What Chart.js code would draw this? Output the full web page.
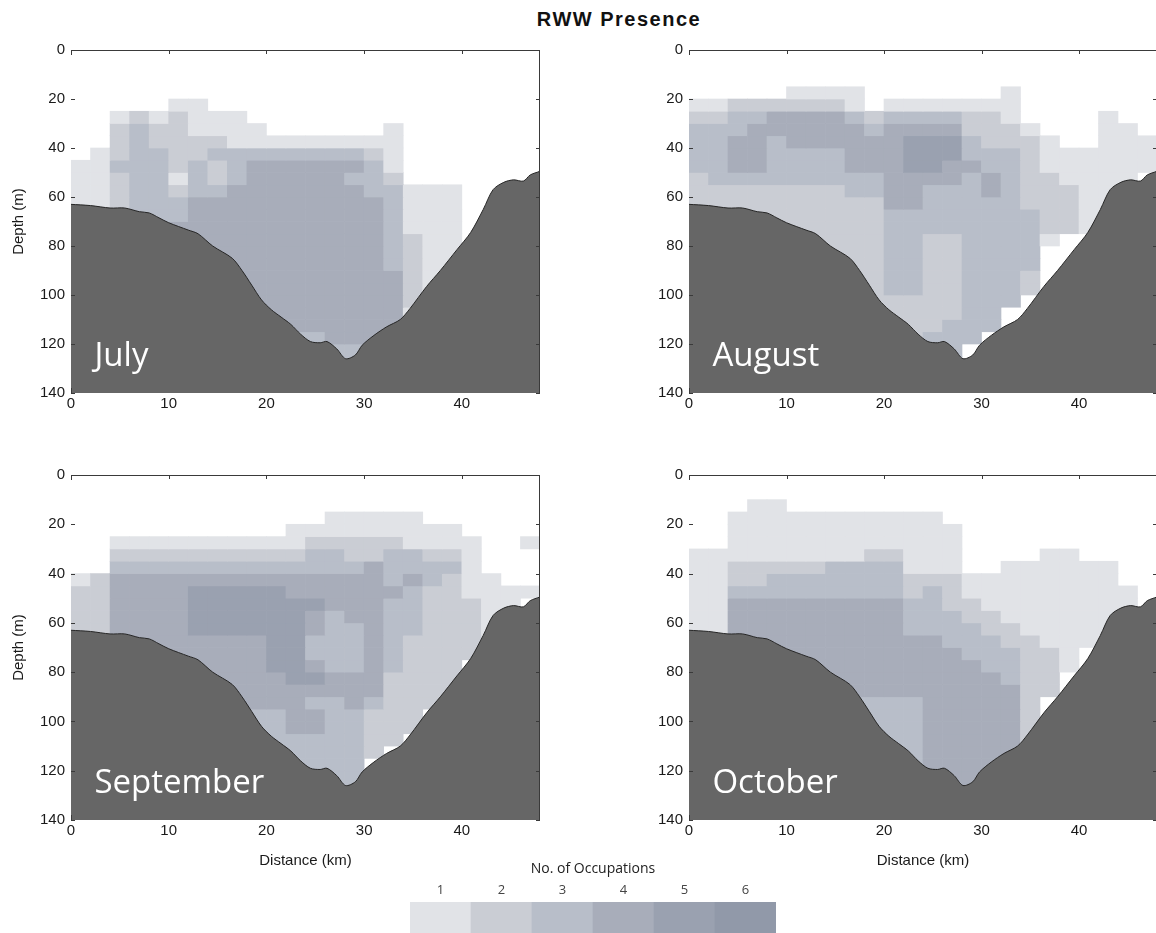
<!DOCTYPE html>
<html>
<head>
<meta charset="utf-8">
<script src="https://cdn.jsdelivr.net/npm/chart.js@4.4.0/dist/chart.umd.min.js"></script>
<style>
  html, body { margin: 0; padding: 0; background: #fff; overflow: hidden; }
  body { width: 1156px; height: 933px; position: relative; }
  canvas { position: absolute; }
  #title {
    position: absolute; left: 419px; top: 9px; width: 400px;
    text-align: center; font: bold 20px/20px "Liberation Sans", Arial, sans-serif;
    letter-spacing: 1.5px; color: #111;
  }
</style>
</head>
<body>
<div id="title">RWW Presence</div>
<canvas id="july" width="550" height="378" style="left:0;top:40px"></canvas>
<canvas id="august" width="549" height="378" style="left:618px;top:40px"></canvas>
<canvas id="september" width="550" height="405" style="left:0;top:465px"></canvas>
<canvas id="october" width="549" height="405" style="left:618px;top:465px"></canvas>
<canvas id="colorbar" width="366" height="100" style="left:410px;top:857px"></canvas>
<script>
// Occupation levels and their colours (colour bar)
const occLevels = ['1', '2', '3', '4', '5', '6'];
const occupationColors = ['#e1e3e7', '#cacdd4', '#b8bec9', '#a8adba', '#9aa1b0', '#9199a9'];

// Bottom profile (distance km, depth m)
const bathyX = [0, 2, 4, 5.5, 7, 8, 9, 10, 12, 13, 14.5, 16.5, 17.5, 18.5, 19.5, 20.5, 21.5, 22.5, 23.5, 24.5,
  25.5, 26.2, 27.2, 28.1, 29.1, 29.8, 31, 32.3, 33.7, 34.7, 36.4, 37.8, 39.5, 40.9, 42.2, 43.2, 44.3, 45.3, 46.3, 47, 48];
const bathyDepth = [63, 63.5, 64.5, 64.5, 66, 66.5, 68.5, 70.5, 73.5, 75, 80, 85, 90, 96, 102, 106, 109, 112, 116, 119,
  119.5, 119, 122, 126, 124.5, 120.5, 116.5, 113, 110, 105.5, 96.5, 90, 81.5, 74.5, 65, 57, 54, 53, 53.5, 51, 49.5];

// Occupation counts: one string per 5 m depth row (0-5, 5-10, ...), one digit per 2 km column (0-2, 2-4, ...)
const julyGrid = [
  '000000000000000000000000', '000000000000000000000000', '000000000000000000000000', '000000000000000000000000',
  '000001100000000000000000', '001212111000000000000000', '002322111100000010000000', '002322221111111110000000',
  '012332233333333210000000', '113332323444444310000000', '112331323444443320000000', '112332334444444331110000',
  '112333444444444431110000', '112333444444444431110000', '112334444444444431110000', '112334444444444432110000',
  '112334444444444432110000', '112334444444444432110000', '112334444444444442110000', '112334444444444442110000',
  '112334444444444442110000', '112334444444444441000000', '112334444444444440000000', '112334444443344440000000',
  '112334444443333440000000', '112334444443333440000000', '112334444443333440000000', '112334444443333440000000'
];
const augustGrid = [
  '000000000000000000000000', '000000000000000000000000', '000000000000000000000000', '000001111000000010000000',
  '112222221011111110000000', '223344443233332210000100', '333444444344442221000110', '334434444445553222100111',
  '334433334445553332111111', '334433334445544332111111', '233333333344443432211110', '222222223344333432221100',
  '222222222244333332221100', '222222222233333333221000', '222222222233333333221000', '222222222233223333100000',
  '222222222233223333000000', '222222222233223333000000', '222222222233223332000000', '222222222233223332000000',
  '222222222222223330000000', '222222222222223300000000', '222222222222233300000000', '222222222222333000000000',
  '222222222222330000000000', '222222222222330000000000', '222222222222330000000000', '222222222222330000000000'
];
const septemberGrid = [
  '000000000000000000000000', '000000000000000000000000', '000000000000000000000000', '000000000000011111000000',
  '000000000001111111110000', '001111111111222221111001', '002222222222332233221000', '003333333333333433331000',
  '124444444444444434321100', '224444555554444443221111', '224444555555544433222110', '224444555555434433222100',
  '224444555555433433222100', '224444444455333432222000', '224444444455333432222000', '224444444455433432220000',
  '224444444445544422220000', '224444444444444422220000', '224444444444334322200000', '224444444334433222000000',
  '224444444334433222000000', '224444444333333220000000', '224444444333333200000000', '224444444333333000000000',
  '224444444333333000000000', '224444444333333000000000', '224444444333333000000000', '224444444333333000000000'
];
const octoberGrid = [
  '000000000000000000000000', '000000000000000000000000', '000110000000000000000000', '001111111111100000000000',
  '001111111111110000000000', '001111111111110000000000', '111111111221110000110000', '112222233331110011111100',
  '112233333332221111111100', '113333333332321111111110', '114444444443322111111110', '114444444443332211111100',
  '114444444443333221111100', '114444444444433322111000', '114444444444443332210000', '114444444444444332210000',
  '114444444444444432200000', '114444444444444442200000', '114444433333444442000000', '114444433333444442000000',
  '114444433333444442000000', '114444433333444442000000', '114444433333444440000000', '114444433333444440000000',
  '114444433333444440000000', '114444433333444440000000', '114444433333444440000000', '114444433333444440000000'
];

const cellWidthKm = 2;
const cellDepthM = 5;
const monthLabelAt = [2.4, 129];

const axisFont = { family: 'Liberation Sans', size: 15 };

// one stacked bar dataset per depth row
function gridDatasets(grid) {
  return grid.map(function (row) {
    const cells = row.split('');
    return {
      type: 'bar',
      data: cells.map(function (c, i) { return { x: cellWidthKm * i + cellWidthKm / 2, y: cellDepthM }; }),
      backgroundColor: cells.map(function (c) { return c === '0' ? 'rgba(0,0,0,0)' : occupationColors[+c - 1]; }),
      borderWidth: 0,
      barPercentage: 1,
      categoryPercentage: 1,
      order: 1
    };
  });
}

// box lines and inward tick marks like the original axes
const framePlugin = {
  id: 'frame',
  afterDatasetsDraw(chart) {
    const { ctx, chartArea: a, scales: { x, y } } = chart;
    ctx.save();
    ctx.strokeStyle = '#3a3a3a';
    ctx.lineWidth = 1;
    ctx.beginPath();
    ctx.moveTo(a.left, a.top + 0.5); ctx.lineTo(a.right, a.top + 0.5);
    ctx.moveTo(a.right - 0.5, a.top); ctx.lineTo(a.right - 0.5, a.bottom);
    ctx.moveTo(a.left + 0.5, a.top); ctx.lineTo(a.left + 0.5, a.top + 5);
    ctx.moveTo(a.left + 0.5, a.bottom); ctx.lineTo(a.left + 0.5, a.bottom - 5);
    x.ticks.forEach(function (t) {
      const px = Math.round(x.getPixelForValue(t.value)) + 0.5;
      ctx.moveTo(px, a.top); ctx.lineTo(px, a.top + 4);
    });
    y.ticks.forEach(function (t) {
      const py = Math.round(y.getPixelForValue(t.value)) + 0.5;
      ctx.moveTo(a.left, py); ctx.lineTo(a.left + 4, py);
      ctx.moveTo(a.right, py); ctx.lineTo(a.right - 4, py);
    });
    ctx.stroke();
    ctx.restore();
  }
};

// white month name inside the bottom fill
const monthLabelPlugin = {
  id: 'monthLabel',
  afterDatasetsDraw(chart, args, opts) {
    const { ctx, scales: { x, y } } = chart;
    ctx.save();
    ctx.fillStyle = '#ffffff';
    ctx.font = '33px "Open Sans"';
    ctx.textBaseline = 'alphabetic';
    ctx.fillText(opts.text, x.getPixelForValue(monthLabelAt[0]), y.getPixelForValue(monthLabelAt[1]));
    ctx.restore();
  }
};

function makePanel(id, month, grid, showDepthTitle, showDistanceTitle) {
  const bathymetry = {
    type: 'line',
    data: bathyX.map(function (x, i) { return { x: x, y: bathyDepth[i] }; }),
    borderColor: '#262626',
    borderWidth: 1,
    backgroundColor: '#666666',
    fill: { value: 140 },
    pointRadius: 0,
    tension: 0.3,
    order: 0
  };
  new Chart(document.getElementById(id), {
    type: 'bar',
    data: { datasets: [bathymetry].concat(gridDatasets(grid)) },
    options: {
      responsive: false,
      animation: false,
      events: [],
      layout: { padding: { top: 10, right: 10, left: 0, bottom: 0 } },
      plugins: {
        legend: { display: false },
        tooltip: { enabled: false },
        monthLabel: { text: month }
      },
      scales: {
        x: {
          type: 'linear', min: 0, max: 48, offset: false, stacked: true,
          grid: { display: false, drawTicks: false, offset: false },
          border: { display: false },
          ticks: { stepSize: 10, includeBounds: false, color: '#1a1a1a', font: axisFont, padding: 2, maxRotation: 0 },
          title: { display: showDistanceTitle, text: 'Distance (km)', color: '#1a1a1a', font: axisFont, padding: 0 },
          afterFit: function (s) {
            s.height = showDistanceTitle ? 50 : 25;
            s.paddingLeft = 0; s.paddingRight = 0;
          }
        },
        y: {
          type: 'linear', min: 0, max: 140, reverse: true, stacked: true,
          grid: { display: false, drawTicks: false },
          border: { display: false },
          ticks: { stepSize: 20, color: '#1a1a1a', font: axisFont, padding: 6 },
          title: { display: showDepthTitle, text: 'Depth (m)', color: '#1a1a1a', font: axisFont, padding: { top: 10, bottom: 0 } },
          afterFit: function (s) {
            s.width = 71;
            s.paddingTop = 0; s.paddingBottom = 0;
          }
        }
      }
    },
    plugins: [framePlugin, monthLabelPlugin]
  });
}

makePanel('july', 'July', julyGrid, true, false);
makePanel('august', 'August', augustGrid, false, false);
makePanel('september', 'September', septemberGrid, true, true);
makePanel('october', 'October', octoberGrid, false, true);

// colour bar
new Chart(document.getElementById('colorbar'), {
  type: 'bar',
  data: {
    labels: occLevels,
    datasets: [{
      data: occLevels.map(function () { return 1; }),
      backgroundColor: occupationColors,
      borderWidth: 0,
      barPercentage: 1,
      categoryPercentage: 1
    }]
  },
  options: {
    responsive: false,
    animation: false,
    events: [],
    layout: { padding: 0 },
    plugins: { legend: { display: false }, tooltip: { enabled: false } },
    scales: {
      x: {
        position: 'top',
        grid: { display: false, drawTicks: false },
        border: { display: false },
        ticks: { color: '#444', font: { family: 'Open Sans', size: 13 }, padding: 4 },
        title: { display: true, text: 'No. of Occupations', color: '#222', font: { family: 'Open Sans', size: 14 }, padding: { top: 4, bottom: 0 } },
        afterFit: function (s) { s.height = 45; }
      },
      y: { display: false, min: 0, max: 1 }
    }
  }
});
</script>
</body>
</html>
